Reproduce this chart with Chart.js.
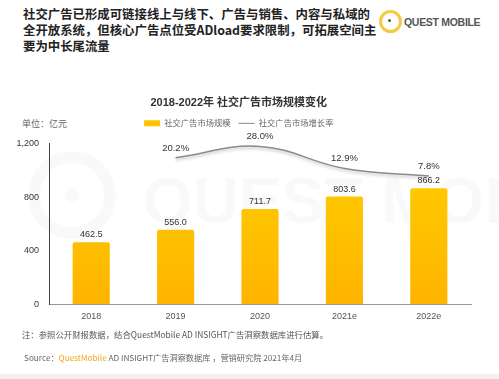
<!DOCTYPE html>
<html>
<head>
<meta charset="utf-8">
<script src="https://cdn.jsdelivr.net/npm/chart.js@4"></script>
<style>
  html, body { margin:0; padding:0; background:#fff; }
  body { width:499px; height:379px; position:relative; overflow:hidden;
         font-family:"Liberation Sans","Noto Sans CJK SC",sans-serif; }
  #head { position:absolute; left:23px; top:6px; font-size:12.4px; line-height:16px; white-space:nowrap;
          color:#222; font-weight:600; font-family:"Noto Sans CJK SC",sans-serif; letter-spacing:0; }
  #logo { position:absolute; left:376px; top:7px; width:120px; height:28px; }
  #ring { position:absolute; left:3px; top:3px; width:17px; height:17px; border:3px solid #F7C843; border-radius:50%; }
  #dot { position:absolute; left:12px; top:12px; width:3px; height:3px; background:#555; border-radius:50%; }
  #lname { position:absolute; left:28px; top:9px; font-size:10.5px; color:#555; font-weight:bold; letter-spacing:-0.3px; }
  #unit { position:absolute; left:22px; top:117px; font-size:9px; color:#666; font-family:"Noto Sans CJK SC",sans-serif; }
  #wrap { position:absolute; left:0; top:88px; width:499px; height:243px; }
  #note { position:absolute; left:22px; top:328px; font-size:8.4px; color:#555; font-family:"Noto Sans CJK SC",sans-serif; }
  #src { position:absolute; left:24px; top:351px; font-size:8.2px; color:#666; font-family:"Noto Sans CJK SC",sans-serif; }
  #src span { color:#F2A71B; }
  #band { position:absolute; left:0; top:374px; width:499px; height:5px; background:#f1f1f1; }
</style>
</head>
<body>
<div id="head">社交广告已形成可链接线上与线下、广告与销售、内容与私域的<br>全开放系统，但核心广告点位受ADload要求限制，可拓展空间主<br>要为中长尾流量</div>
<div id="logo"><div id="ring"></div><div id="dot"></div><div id="lname">QUEST MOBILE</div></div>
<div id="unit">单位：亿元</div>
<div id="wrap"><canvas id="c"></canvas></div>
<div id="note">注：参照公开财报数据，结合QuestMobile AD INSIGHT广告洞察数据库进行估算。</div>
<div id="src">Source：<span>QuestMobile</span> AD INSIGHT广告洞察数据库 ，营销研究院 2021年4月</div>
<div id="band"></div>
<script>
const categories = ["2018", "2019", "2020", "2021e", "2022e"];
const marketSize = [462.5, 556.0, 711.7, 803.6, 866.2];
const growthRate = [null, 20.2, 28.0, 12.9, 7.8];
const yTicks = [0, 400, 800, 1200];

const FONT = '"Liberation Sans","Noto Sans CJK SC",sans-serif';

const labelPlugin = {
  id: 'valueLabels',
  afterInit(chart) {
    const lg = chart.legend;
    if (lg && !lg._patched) {
      const fit = lg.fit;
      lg.fit = function () { fit.call(this); this.height += 6; };
      lg._patched = true;
    }
  },
  beforeDatasetsDraw(chart) {
    const {ctx} = chart;
    ctx.save();
    ctx.fillStyle = 'rgba(0,0,0,0.022)';
    ctx.font = 'bold 64px ' + FONT;
    ctx.textBaseline = 'middle';
    ctx.fillText('QUEST MOBILE', 143, 205 - 88);
    ctx.strokeStyle = 'rgba(0,0,0,0.022)';
    ctx.lineWidth = 12;
    ctx.beginPath(); ctx.arc(72, 195 - 88, 38, 0, Math.PI * 2); ctx.stroke();
    ctx.beginPath(); ctx.arc(72, 195 - 88, 7, 0, Math.PI * 2); ctx.fill();
    ctx.restore();
  },
  afterDatasetsDraw(chart) {
    const {ctx} = chart;
    ctx.save();
    ctx.textAlign = 'center';
    ctx.textBaseline = 'bottom';
    ctx.fillStyle = '#333';
    chart.getDatasetMeta(0).data.forEach((el, i) => {
      ctx.font = '9px ' + FONT;
      ctx.fillText(marketSize[i].toFixed(1), el.x, el.y - 3);
    });
    chart.getDatasetMeta(1).data.forEach((el, i) => {
      if (growthRate[i] == null) return;
      ctx.font = '9.5px ' + FONT;
      ctx.fillText(growthRate[i].toFixed(1) + '%', el.x, el.y - 5);
    });
    ctx.restore();
  }
};

const shadowPlugin = {
  id: 'lineShadow',
  beforeDatasetDraw(chart, args) {
    if (args.index === 1) {
      chart.ctx.save();
      chart.ctx.shadowColor = 'rgba(0,0,0,0.25)';
      chart.ctx.shadowBlur = 3;
      chart.ctx.shadowOffsetY = 2;
    }
  },
  afterDatasetDraw(chart, args) {
    if (args.index === 1) chart.ctx.restore();
  }
};

function barGradient(context) {
  const {ctx, chartArea} = context.chart;
  if (!chartArea) return '#FFC400';
  const g = ctx.createLinearGradient(0, chartArea.top, 0, chartArea.bottom);
  g.addColorStop(0, '#FFD000');
  g.addColorStop(1, '#FFB400');
  return g;
}

new Chart(document.getElementById('c'), {
  data: {
    labels: categories,
    datasets: [
      {
        type: 'bar',
        label: '社交广告市场规模',
        data: marketSize,
        backgroundColor: barGradient,
        borderRadius: {topLeft: 2, topRight: 2},
        borderSkipped: 'bottom',
        categoryPercentage: 0.8,
        barPercentage: 0.55,
        yAxisID: 'y',
        order: 2
      },
      {
        type: 'line',
        label: '社交广告市场增长率',
        data: growthRate,
        borderColor: '#8a8a8a',
        backgroundColor: '#8a8a8a',
        borderWidth: 1.5,
        pointRadius: 0,
        tension: 0.4,
        yAxisID: 'y2',
        order: 1
      }
    ]
  },
  options: {
    responsive: true,
    maintainAspectRatio: false,
    animation: false,
    layout: { padding: { left: 6.5, right: 28, top: 0, bottom: 2 } },
    plugins: {
      title: {
        display: true,
        text: '2018-2022年 社交广告市场规模变化',
        color: '#333',
        font: { family: FONT, size: 11, weight: 'bold' },
        padding: { top: 8, bottom: 2 }
      },
      legend: {
        display: true,
        labels: {
          color: '#666',
          font: { family: FONT, size: 8.3 },
          usePointStyle: true,
          pointStyleWidth: 16,
          boxHeight: 6,
          padding: 8,
          generateLabels(chart) {
            return chart.data.datasets.map((ds, i) => ({
              text: ds.label,
              fillStyle: i === 0 ? '#FFC600' : '#8a8a8a',
              strokeStyle: i === 0 ? '#FFC600' : '#8a8a8a',
              lineWidth: i === 0 ? 0 : 1,
              pointStyle: i === 0 ? 'rect' : 'line',
              fontColor: '#666',
              datasetIndex: i,
              hidden: false
            }));
          }
        }
      },
      tooltip: { enabled: false }
    },
    scales: {
      x: {
        grid: { display: false, drawTicks: false },
        border: { display: true, color: '#999', width: 1 },
        ticks: { color: '#555', font: { family: FONT, size: 9 }, padding: 7 }
      },
      y: {
        min: 0, max: 1200,
        afterBuildTicks(axis) { axis.ticks = yTicks.map(v => ({ value: v })); },
        grid: { display: false, drawTicks: false },
        border: { display: true, color: '#444', width: 1 },
        ticks: { color: '#333', font: { family: FONT, size: 9 }, padding: 10,
                 callback: v => v.toLocaleString('en-US') }
      },
      y2: {
        display: false,
        min: -80, max: 30
      }
    }
  },
  plugins: [labelPlugin, shadowPlugin]
});
</script>
</body>
</html>
